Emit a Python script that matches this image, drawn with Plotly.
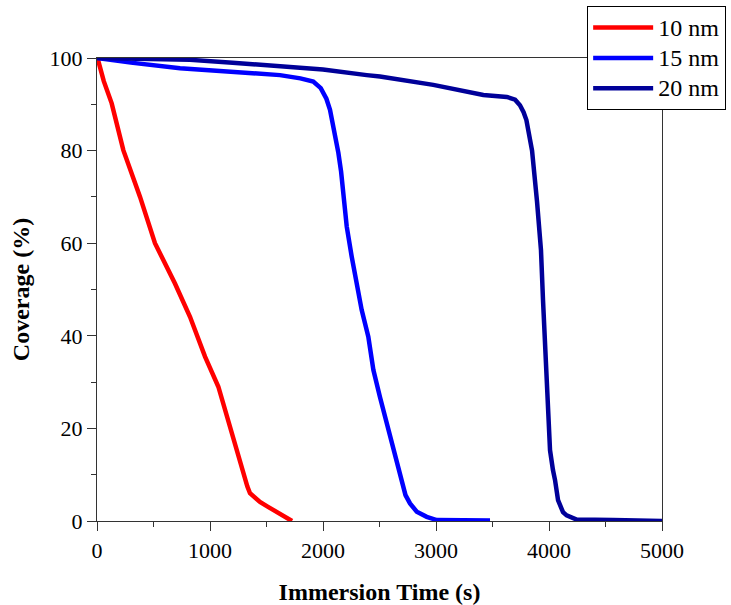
import plotly.graph_objects as go

# Immersion time (s) and surface coverage (%) for each film thickness
t_10nm = [0, 10, 60, 130, 233, 381, 513, 690, 823, 956, 1074, 1177, 1240, 1292, 1330, 1354,
          1400, 1442, 1510, 1575, 1650, 1726]
cov_10nm = [100, 99.5, 95, 90.2, 80.1, 70.0, 60.0, 51.3, 44.1, 35.5, 29.0, 20.0, 14.5, 10.0, 7.5, 6.0,
            5.0, 4.1, 3.1, 2.2, 1.1, 0]

t_15nm = [0, 300, 735, 1200, 1619, 1800, 1914, 1980, 2030, 2062, 2090, 2115, 2136, 2160, 2180,
          2210, 2254, 2298, 2342, 2401, 2446, 2504, 2564, 2637, 2690, 2730, 2770, 2830, 2918,
          3006, 3478]
cov_15nm = [100, 99.0, 97.8, 97.0, 96.3, 95.6, 94.9, 93.5, 91.2, 88.8, 85.5, 82.5, 79.5, 75.5, 71.5,
            63.6, 57.1, 51.3, 45.6, 39.8, 32.6, 26.8, 21.1, 13.9, 8.8, 5.6, 3.8, 2.0, 0.9,
            0.2, 0.1]

t_20nm = [0, 400, 823, 1200, 1619, 2000, 2387, 2504, 2976, 3419, 3626, 3700, 3743, 3775, 3800,
          3825, 3850, 3894, 3929, 3947, 3965, 3982, 4009, 4035, 4053, 4080, 4105, 4124, 4156,
          4212, 4245, 4566, 5000]
cov_20nm = [100, 99.9, 99.6, 99.0, 98.1, 97.5, 96.3, 96.0, 94.2, 92.0, 91.6, 91.0, 89.8, 88.3, 86.6,
            83.5, 80, 69, 58.5, 47.7, 37, 26, 15.3, 11.0, 8.9, 4.5, 2.8, 1.9, 1.2,
            0.6, 0.3, 0.2, 0]

labels = ["10 nm", "15 nm", "20 nm"]
colors = ["#FF0000", "#0000FF", "#000099"]
series = list(zip(labels, [t_10nm, t_15nm, t_20nm], [cov_10nm, cov_15nm, cov_20nm], colors))

FONT = "Liberation Serif"

fig = go.Figure()
for name, t, c, color in series:
    fig.add_trace(go.Scatter(x=t, y=c, mode="lines",
                             name=f'<span style="font-size:24px">{name}</span>',
                             line=dict(color=color, width=4.5)))

axis_common = dict(
    showgrid=False, zeroline=False, showline=True, linecolor="#333333", linewidth=1.3,
    mirror=True, ticks="outside", ticklen=9, tickwidth=1.3, tickcolor="#333333",
    tickfont=dict(family=FONT, size=22, color="black"), automargin=False,
)

fig.update_xaxes(
    range=[0, 5000], dtick=1000, tick0=0,
    minor=dict(dtick=500, ticks="outside", ticklen=5, tickwidth=1.3, tickcolor="#333333"),
    title=dict(text="Immersion Time (s)", standoff=21,
               font=dict(family=FONT, size=24, color="black", weight="bold")),
    **axis_common,
)
fig.update_yaxes(
    range=[0, 100], dtick=20, tick0=0,
    minor=dict(dtick=10, ticks="outside", ticklen=5, tickwidth=1.3, tickcolor="#333333"),
    title=dict(text="Coverage (%)", standoff=13,
               font=dict(family=FONT, size=24, color="black", weight="bold")),
    **axis_common,
)

fig.update_layout(
    width=731, height=605,
    margin=dict(l=97, r=69, t=58, b=84, autoexpand=False),
    plot_bgcolor="white", paper_bgcolor="white",
    legend=dict(x=0.867, y=1.112, xanchor="left", yanchor="top",
                bgcolor="white", bordercolor="black", borderwidth=1.3,
                font=dict(family=FONT, size=21, color="black"),
                itemwidth=60),
)

fig.write_html("out.html")
